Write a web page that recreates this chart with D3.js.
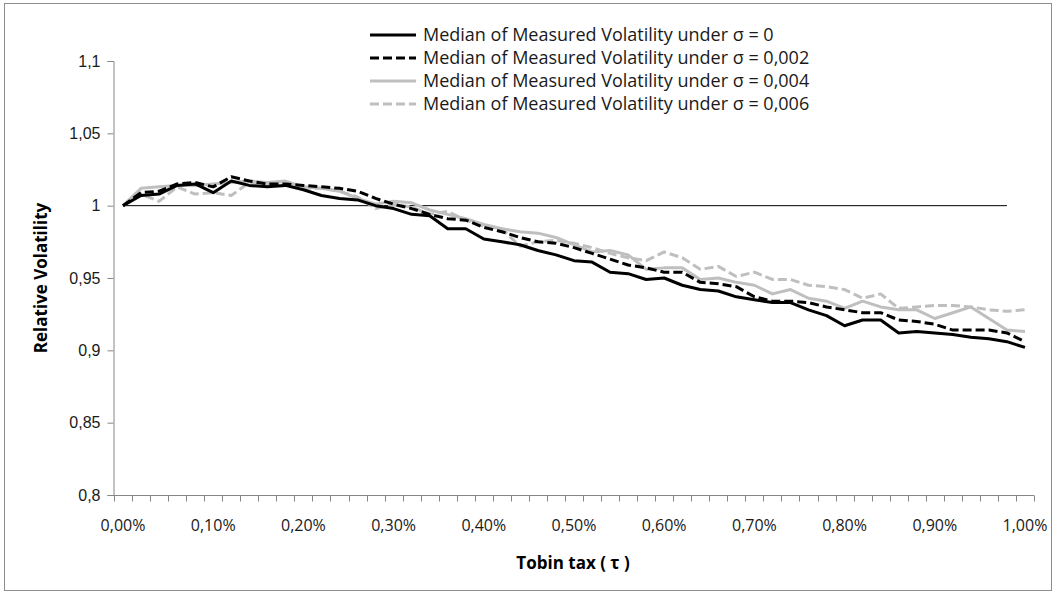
<!DOCTYPE html>
<html>
<head>
<meta charset="utf-8">
<script src="https://cdn.jsdelivr.net/npm/d3@7"></script>
<style>
  html, body { margin: 0; padding: 0; background: #fff; }
  svg { display: block; font-family: "Open Sans", "Liberation Sans", sans-serif; }
</style>
</head>
<body>
<svg id="chart" width="1057" height="594"></svg>
<script>
// Tobin tax levels (percent), one category every 0.02%
const taxLevels = [
  "0,00%","0,02%","0,04%","0,06%","0,08%","0,10%","0,12%","0,14%","0,16%","0,18%",
  "0,20%","0,22%","0,24%","0,26%","0,28%","0,30%","0,32%","0,34%","0,36%","0,38%",
  "0,40%","0,42%","0,44%","0,46%","0,48%","0,50%","0,52%","0,54%","0,56%","0,58%",
  "0,60%","0,62%","0,64%","0,66%","0,68%","0,70%","0,72%","0,74%","0,76%","0,78%",
  "0,80%","0,82%","0,84%","0,86%","0,88%","0,90%","0,92%","0,94%","0,96%","0,98%",
  "1,00%"
];

// Median relative volatility for each noise level
const sigma0 = [
  1.000,1.007,1.008,1.014,1.015,1.009,1.017,1.014,1.013,1.014,
  1.011,1.007,1.005,1.004,1.000,0.998,0.994,0.993,0.984,0.984,
  0.977,0.975,0.973,0.969,0.966,0.962,0.961,0.954,0.953,0.949,
  0.950,0.945,0.942,0.941,0.937,0.935,0.933,0.933,0.928,0.924,
  0.917,0.921,0.921,0.912,0.913,0.912,0.911,0.909,0.908,0.906,
  0.902
];
const sigma002 = [
  1.000,1.009,1.010,1.015,1.016,1.013,1.020,1.017,1.015,1.015,
  1.014,1.013,1.012,1.010,1.005,1.001,0.998,0.994,0.991,0.990,
  0.985,0.982,0.978,0.975,0.974,0.971,0.967,0.963,0.959,0.957,
  0.954,0.954,0.947,0.946,0.944,0.937,0.934,0.934,0.933,0.930,
  0.928,0.926,0.926,0.921,0.920,0.918,0.914,0.914,0.914,0.912,
  0.906
];
const sigma004 = [
  1.000,1.012,1.013,1.014,1.014,1.015,1.016,1.017,1.016,1.017,
  1.013,1.012,1.010,1.005,1.001,1.003,1.002,0.997,0.994,0.991,
  0.987,0.984,0.982,0.981,0.978,0.973,0.968,0.969,0.966,0.956,
  0.957,0.957,0.949,0.950,0.947,0.945,0.939,0.942,0.936,0.934,
  0.929,0.934,0.930,0.928,0.928,0.922,0.926,0.930,0.922,0.914,
  0.913
];
const sigma006 = [
  1.000,1.008,1.003,1.013,1.008,1.009,1.007,1.016,1.015,1.014,
  1.012,1.012,1.010,1.006,0.998,1.001,0.999,0.994,0.996,0.990,
  0.986,0.984,0.972,0.975,0.976,0.974,0.971,0.967,0.964,0.962,
  0.968,0.964,0.956,0.958,0.951,0.954,0.949,0.949,0.945,0.944,
  0.942,0.936,0.939,0.929,0.930,0.931,0.931,0.930,0.928,0.927,
  0.928
];

const seriesNames = [
  "Median of Measured Volatility under σ = 0",
  "Median of Measured Volatility under σ = 0,002",
  "Median of Measured Volatility under σ = 0,004",
  "Median of Measured Volatility under σ = 0,006"
];

const yTicks = [0.8, 0.85, 0.9, 0.95, 1, 1.05, 1.1];
const yTickLabels = ["0,8", "0,85", "0,9", "0,95", "1", "1,05", "1,1"];
const xLabelEvery = 5;

// Unit reference level drawn across the chart
const referenceLevel = 1;
const referenceEnd = "0,98%";

const svg = d3.select("#chart");

// outer chart frame
svg.append("rect")
  .attr("x", 4.5).attr("y", 3.5)
  .attr("width", 1047).attr("height", 587)
  .attr("fill", "#fff").attr("stroke", "#8c8c8c").attr("stroke-width", 1);

const plot = { left: 114, right: 1034, top: 61, bottom: 495 };

const x = d3.scaleBand().domain(taxLevels).range([plot.left, plot.right]);
const xc = d => x(d) + x.bandwidth() / 2;
const y = d3.scaleLinear().domain([0.8, 1.1]).range([plot.bottom, plot.top]);

const axisColor = "#868686";
const textColor = "#1a1a1a";

// y axis
const yAxis = svg.append("g")
  .attr("transform", `translate(${plot.left - 0.5},0)`)
  .call(d3.axisLeft(y).tickValues(yTicks)
    .tickFormat((d, i) => yTickLabels[i]).tickSizeOuter(0).tickSize(6).tickPadding(7));
yAxis.select(".domain").attr("stroke", axisColor);
yAxis.selectAll(".tick line").attr("stroke", axisColor);
yAxis.selectAll(".tick text").attr("fill", textColor)
  .style("font-size", "16px");

// x axis: tick marks on category boundaries, labels every 0.10%
const boundaries = taxLevels.map(d => x(d)).concat([plot.right]);
const xAxisG = svg.append("g").attr("transform", `translate(0,${plot.bottom + 0.5})`);
xAxisG.append("line")
  .attr("x1", plot.left - 6).attr("x2", plot.right)
  .attr("stroke", axisColor);
xAxisG.selectAll("line.tk").data(boundaries).join("line")
  .attr("class", "tk")
  .attr("x1", d => Math.round(d) + 0.5).attr("x2", d => Math.round(d) + 0.5)
  .attr("y1", 0).attr("y2", 6)
  .attr("stroke", axisColor);
xAxisG.selectAll("text").data(taxLevels.filter((d, i) => i % xLabelEvery === 0)).join("text")
  .attr("x", d => xc(d)).attr("y", 35)
  .attr("text-anchor", "middle")
  .attr("fill", textColor)
  .style("font-size", "16px")
  .text(d => d);

// axis titles
svg.append("text")
  .attr("transform", `translate(47,${278}) rotate(-90)`)
  .attr("text-anchor", "middle")
  .attr("fill", "#000")
  .style("font-size", "17px").style("font-weight", "bold")
  .text("Relative Volatility");

svg.append("text")
  .attr("x", 573).attr("y", 569)
  .attr("text-anchor", "middle")
  .attr("fill", "#000")
  .style("font-size", "17px").style("font-weight", "bold")
  .text("Tobin tax ( τ )");

// reference line at 1
svg.append("line")
  .attr("x1", xc(taxLevels[0])).attr("x2", xc(referenceEnd))
  .attr("y1", y(referenceLevel)).attr("y2", y(referenceLevel))
  .attr("stroke", "#000").attr("stroke-width", 1);

const styles = [
  { color: "#000000", dash: null },
  { color: "#000000", dash: "9,4" },
  { color: "#bfbfbf", dash: null },
  { color: "#bfbfbf", dash: "9,4" }
];
const allSeries = [sigma0, sigma002, sigma004, sigma006];

const line = d3.line()
  .x((d, i) => xc(taxLevels[i]))
  .y(d => y(d));

// draw lighter series first so the black lines sit on top
[3, 2, 1, 0].forEach(k => {
  svg.append("path")
    .datum(allSeries[k])
    .attr("d", line)
    .attr("fill", "none")
    .attr("stroke", styles[k].color)
    .attr("stroke-width", 3)
    .attr("stroke-linejoin", "round")
    .attr("stroke-dasharray", styles[k].dash);
});

// legend
const legend = svg.append("g").attr("transform", "translate(370,35)");
seriesNames.forEach((name, k) => {
  const row = legend.append("g").attr("transform", `translate(0,${k * 23})`);
  row.append("line")
    .attr("x1", 0).attr("x2", 46).attr("y1", 0).attr("y2", 0)
    .attr("stroke", styles[k].color).attr("stroke-width", 3)
    .attr("stroke-dasharray", styles[k].dash);
  row.append("text")
    .attr("x", 53).attr("y", 0).attr("dy", "0.35em")
    .attr("fill", textColor)
    .style("font-size", "18px")
    .text(name);
});
</script>
</body>
</html>
